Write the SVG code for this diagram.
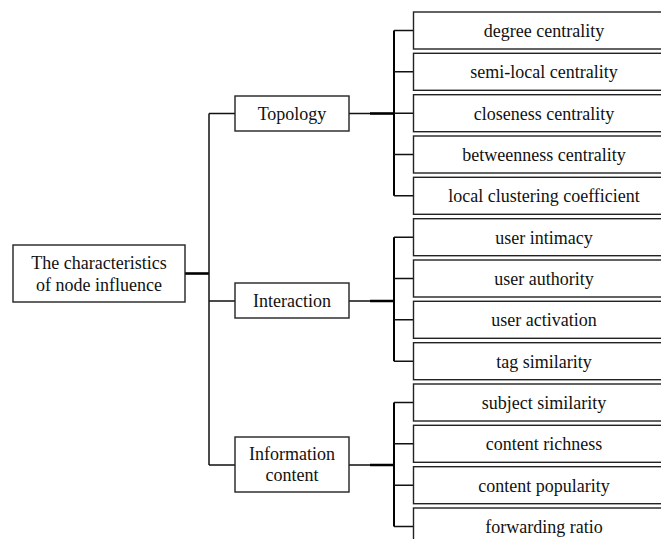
<svg xmlns="http://www.w3.org/2000/svg" width="661" height="539" viewBox="0 0 661 539">
<style>
.box{fill:#fff;stroke:#222;stroke-width:1.4}
.t{font-family:"Liberation Serif","Times New Roman",serif;font-size:18px;fill:#111;text-anchor:middle}
.c{fill:none;stroke:#111;stroke-width:1.5}
.ck{fill:none;stroke:#000;stroke-width:2.6}
.cv{fill:none;stroke:#000;stroke-width:2}
</style>
<rect width="661" height="539" fill="#fff"/>
<g id="connectors">
<path class="ck" d="M185 273.5H209"/>
<path class="c" d="M209 113.5V465M209 113.5H235M209 301H235M209 465H235"/>
<path class="c" d="M349 113.5H394M349 301H394M349 465H394"/>
<path class="ck" d="M370 113.5H394M370 301H394M370 465H394"/>
<path class="cv" d="M394 30.5V195.8M394 237.2V361.2M394 402.5V526.5"/>
<path class="c" d="M394 30.5H413.5M394 71.8H413.5M394 113.2H413.5M394 154.5H413.5M394 195.8H413.5"/>
<path class="c" d="M394 237.2H413.5M394 278.5H413.5M394 319.8H413.5M394 361.2H413.5"/>
<path class="c" d="M394 402.5H413.5M394 443.8H413.5M394 485.2H413.5M394 526.5H413.5"/>
</g>
<g id="root"><rect class="box" x="13" y="245" width="172" height="57"/><text class="t" x="99" y="269">The characteristics</text><text class="t" x="99" y="291">of node influence</text></g>
<g id="topology"><rect class="box" x="235" y="96" width="114" height="35"/><text class="t" x="292" y="119.5">Topology</text></g>
<g id="interaction"><rect class="box" x="235" y="283" width="114" height="35"/><text class="t" x="292" y="307">Interaction</text></g>
<g id="information"><rect class="box" x="235" y="437" width="114" height="55"/><text class="t" x="292" y="460">Information</text><text class="t" x="292" y="481">content</text></g>
<g id="leaf1"><rect class="box" x="413.5" y="12" width="270" height="37"/><text class="t" x="544" y="37">degree centrality</text></g>
<g id="leaf2"><rect class="box" x="413.5" y="53.3" width="270" height="37"/><text class="t" x="544" y="78.3">semi-local centrality</text></g>
<g id="leaf3"><rect class="box" x="413.5" y="94.7" width="270" height="37"/><text class="t" x="544" y="119.7">closeness centrality</text></g>
<g id="leaf4"><rect class="box" x="413.5" y="136" width="270" height="37"/><text class="t" x="544" y="161">betweenness centrality</text></g>
<g id="leaf5"><rect class="box" x="413.5" y="177.3" width="270" height="37"/><text class="t" x="544" y="202.3">local clustering coefficient</text></g>
<g id="leaf6"><rect class="box" x="413.5" y="218.7" width="270" height="37"/><text class="t" x="544" y="243.7">user intimacy</text></g>
<g id="leaf7"><rect class="box" x="413.5" y="260" width="270" height="37"/><text class="t" x="544" y="285">user authority</text></g>
<g id="leaf8"><rect class="box" x="413.5" y="301.3" width="270" height="37"/><text class="t" x="544" y="326.3">user activation</text></g>
<g id="leaf9"><rect class="box" x="413.5" y="342.7" width="270" height="37"/><text class="t" x="544" y="367.7">tag similarity</text></g>
<g id="leaf10"><rect class="box" x="413.5" y="384" width="270" height="37"/><text class="t" x="544" y="409">subject similarity</text></g>
<g id="leaf11"><rect class="box" x="413.5" y="425.3" width="270" height="37"/><text class="t" x="544" y="450.3">content richness</text></g>
<g id="leaf12"><rect class="box" x="413.5" y="466.7" width="270" height="37"/><text class="t" x="544" y="491.7">content popularity</text></g>
<g id="leaf13"><rect class="box" x="413.5" y="508" width="270" height="37"/><text class="t" x="544" y="533">forwarding ratio</text></g>
</svg>
